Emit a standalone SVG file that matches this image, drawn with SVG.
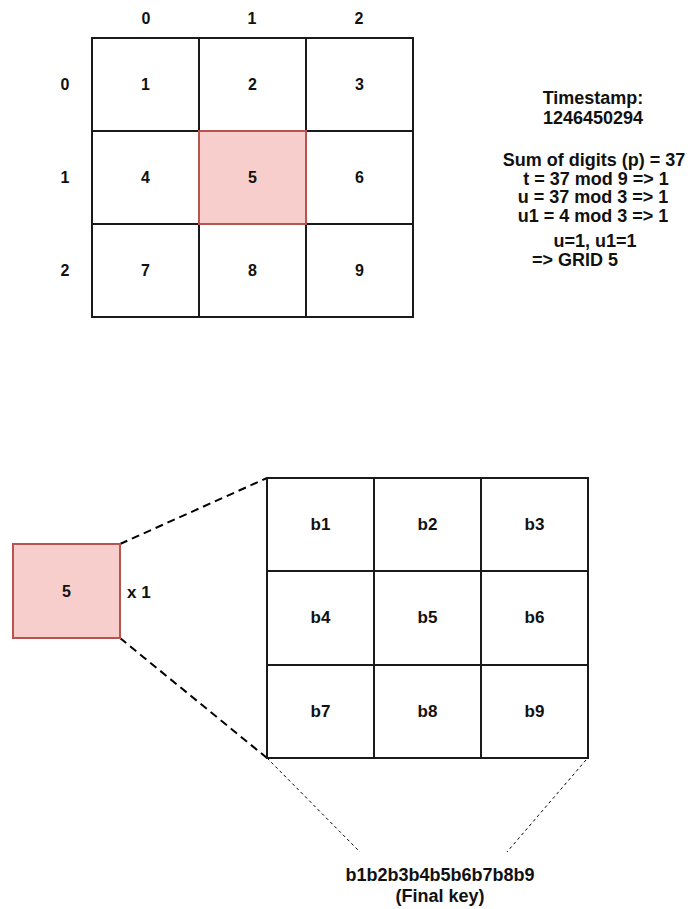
<svg xmlns="http://www.w3.org/2000/svg" width="691" height="909" viewBox="0 0 691 909">
<style>
text{font-family:"Liberation Sans",Arial,sans-serif;font-weight:bold;fill:#111;text-anchor:middle}
.cell{fill:#fff;stroke:#1a1a1a;stroke-width:2}
.hot{fill:#f8cecc;stroke:#b85450;stroke-width:2}
.n{font-size:16px}
.b{font-size:17px}
.t{font-size:18px}
.thick{stroke:#000;stroke-width:2;stroke-dasharray:8 5;fill:none}
.thin{stroke:#000;stroke-width:1;stroke-dasharray:3 3;fill:none}
</style>
<rect width="691" height="909" fill="#fff"/>
<g id="axis-labels">
<text class="n" x="146" y="24">0</text>
<text class="n" x="252" y="24">1</text>
<text class="n" x="359" y="24">2</text>
<text class="n" x="65" y="90">0</text>
<text class="n" x="65" y="183">1</text>
<text class="n" x="65" y="276">2</text>
</g>
<g id="grid">
<g id="cell1"><rect class="cell" x="92" y="38" width="107" height="93"/><text class="n" x="145.5" y="90">1</text></g>
<g id="cell2"><rect class="cell" x="199" y="38" width="107" height="93"/><text class="n" x="252.5" y="90">2</text></g>
<g id="cell3"><rect class="cell" x="306" y="38" width="107" height="93"/><text class="n" x="359.5" y="90">3</text></g>
<g id="cell4"><rect class="cell" x="92" y="131" width="107" height="93"/><text class="n" x="145.5" y="183">4</text></g>
<g id="cell6"><rect class="cell" x="306" y="131" width="107" height="93"/><text class="n" x="359.5" y="183">6</text></g>
<g id="cell7"><rect class="cell" x="92" y="224" width="107" height="93"/><text class="n" x="145.5" y="276">7</text></g>
<g id="cell8"><rect class="cell" x="199" y="224" width="107" height="93"/><text class="n" x="252.5" y="276">8</text></g>
<g id="cell9"><rect class="cell" x="306" y="224" width="107" height="93"/><text class="n" x="359.5" y="276">9</text></g>
<g id="cell5"><rect class="hot" x="199" y="131" width="107" height="93"/><text class="n" x="252.5" y="183">5</text></g>
</g>
<g id="calc">
<text class="t" x="593" y="104">Timestamp:</text>
<text class="t" x="593" y="124">1246450294</text>
<text class="t" x="594" y="166">Sum of digits (p) = 37</text>
<text class="t" x="596" y="185">t = 37 mod 9 =&gt; 1</text>
<text class="t" x="593" y="203">u = 37 mod 3 =&gt; 1</text>
<text class="t" x="593" y="222">u1 = 4 mod 3 =&gt; 1</text>
<text class="t" x="595" y="247">u=1, u1=1</text>
<text class="t" x="575" y="266">=&gt; GRID 5</text>
</g>
<g id="connectors">
<line class="thick" x1="120" y1="544" x2="267" y2="478"/>
<line class="thick" x1="120" y1="638" x2="267" y2="758"/>
<line class="thin" x1="267" y1="758" x2="360" y2="852"/>
<line class="thin" x1="586" y1="760" x2="507" y2="852"/>
</g>
<g id="selected">
<rect class="hot" x="13" y="544" width="107" height="94"/>
<text class="n" x="66.5" y="597">5</text>
</g>
<g id="multiplier"><text x="127" y="598" style="text-anchor:start;font-size:17px">x 1</text></g>
<g id="subgrid">
<g id="b1"><rect class="cell" x="267" y="478" width="107" height="93"/><text class="b" x="320.5" y="530">b1</text></g>
<g id="b2"><rect class="cell" x="374" y="478" width="107" height="93"/><text class="b" x="427.5" y="530">b2</text></g>
<g id="b3"><rect class="cell" x="481" y="478" width="107" height="93"/><text class="b" x="534.5" y="530">b3</text></g>
<g id="b4"><rect class="cell" x="267" y="571" width="107" height="94"/><text class="b" x="320.5" y="623">b4</text></g>
<g id="b5"><rect class="cell" x="374" y="571" width="107" height="94"/><text class="b" x="427.5" y="623">b5</text></g>
<g id="b6"><rect class="cell" x="481" y="571" width="107" height="94"/><text class="b" x="534.5" y="623">b6</text></g>
<g id="b7"><rect class="cell" x="267" y="665" width="107" height="93"/><text class="b" x="320.5" y="717">b7</text></g>
<g id="b8"><rect class="cell" x="374" y="665" width="107" height="93"/><text class="b" x="427.5" y="717">b8</text></g>
<g id="b9"><rect class="cell" x="481" y="665" width="107" height="93"/><text class="b" x="534.5" y="717">b9</text></g>
</g>
<g id="final-key">
<text class="t" x="440" y="881">b1b2b3b4b5b6b7b8b9</text>
<text class="t" x="440" y="902">(Final key)</text>
</g>
</svg>
